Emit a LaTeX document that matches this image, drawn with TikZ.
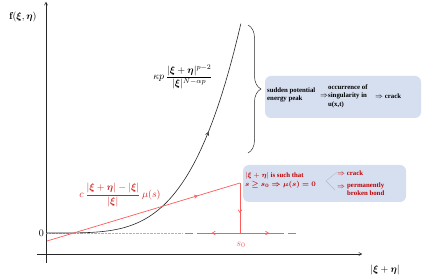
\documentclass[tikz,border=0pt]{standalone}
\usepackage{amsmath, amssymb, bm}
\usepackage{fontspec}
\newfontfamily\boxfont{Liberation Serif}
\usetikzlibrary{arrows.meta, decorations.markings, decorations.pathreplacing, calc}
\usepackage{xcolor}

\definecolor{boxblue}{RGB}{214,223,240}
\definecolor{linered}{RGB}{255,90,90}
\definecolor{textred}{RGB}{192,0,0}
\definecolor{formred}{RGB}{205,35,35}

\begin{document}
\begin{tikzpicture}[x=1pt, y=-1pt,
axis/.style={draw=black!85, line width=0.6pt, -{To[length=3.5pt, width=3.5pt]}},
redline/.style={draw=linered, line width=0.7pt},
midarrow/.style={postaction={decorate}, decoration={markings,
  mark=at position #1 with {\arrow{To[length=3.5pt, width=4pt]}}}},
infobox/.style={fill=boxblue, rounded corners=6pt, inner sep=0pt},
boxtext/.style={font=\boxfont\fontsize{6.8}{8.6}\selectfont\bfseries, align=left, inner sep=0pt, anchor=west}
]
\useasboundingbox (0,0) rectangle (423,280);

% -------- Axes --------
\coordinate (ybottom) at (46,263);
\coordinate (ytop) at (46,2);
\coordinate (xstart) at (37,254);
\coordinate (xend) at (362,254);
\draw[axis] (ybottom) -- (ytop);
\draw[axis] (xstart) -- (xend);
\node (ylabel) at (23,17) {$\mathbf{f}(\bm\xi,\bm\eta)$};
\node (xlabel) at (385,270) {$|\bm\xi+\bm\eta|$};

% -------- Zero level --------
\coordinate (zero) at (46,233);
\coordinate (zeroend) at (183,233);
\node[anchor=east, inner sep=2pt] (zerolabel) at (zero) {0};
\draw[gray!60, line width=0.4pt, densely dotted] (zero) -- (zeroend);

% -------- Potential curve --------
\draw[black!85, line width=0.6pt, midarrow=0.65]
  plot[domain=0:1, samples=60, smooth] ({46+195*\x}, {233-210*\x^4});
\node (potential) at (183,77) {$\kappa p\,\dfrac{|\bm\xi+\bm\eta|^{p-2}}{|\bm\xi|^{N-\alpha p}}$};

% -------- Red linear part --------
\coordinate (rstart) at (47,241);
\coordinate (rpeak) at (240,183);
\coordinate (rfoot) at (240,233);
\coordinate (sleft) at (205,233);
\coordinate (sright) at (276,233);
\coordinate (dleft) at (182,233);
\coordinate (dright) at (299,233);
\draw[redline, midarrow=0.78] (rstart) -- (rpeak);
\draw[redline, midarrow=0.6] (rpeak) -- (rfoot);
\draw[redline, midarrow=0.8] (rfoot) -- (sleft);
\draw[redline, midarrow=0.8] (rfoot) -- (sright);
\draw[redline, dash pattern=on 8pt off 4pt] (sleft) -- (dleft);
\draw[redline, dash pattern=on 8pt off 4pt] (sright) -- (dright);
\node[text=linered] (s0) at (241,245) {$s_0$};
\node[text=formred] (linear) at (120,195) {$c\,\dfrac{|\bm\xi+\bm\eta|-|\bm\xi|}{|\bm\xi|}\,\mu(s)$};

% -------- Brace --------
\coordinate (btop) at (248,25);
\coordinate (bbottom) at (248,153);
\draw[black!85, line width=0.5pt, decorate, decoration={brace, amplitude=13pt}] (btop) -- (bbottom);

% -------- Energy peak box --------
\node[infobox, minimum width=156pt, minimum height=42pt] (peakbox) at (343,97) {};
\node[boxtext] (peak) at (267,95) {sudden potential\\energy peak};
\node[boxtext] (imp1) at (320,96) {$\Rightarrow$};
\node[boxtext] (sing) at (328,96) {occurrence of\\singularity in\\u(x,t)};
\node[boxtext] (crack1) at (375,96) {$\Rightarrow$ crack};

% -------- Cut-off box --------
\node[infobox, minimum width=163pt, minimum height=37pt] (cutbox) at (324.5,183.5) {};
\node[boxtext, text=textred] (cond) at (245,180.5) {$|\bm\xi+\bm\eta|$ is such that\\$\bm{s\geq s_0\Rightarrow \mu(s)=0}$};
\coordinate (atop) at (337,172);
\coordinate (atip) at (326,181);
\coordinate (abot) at (335,190);
\draw[gray!55, line width=0.4pt] (atop) -- (atip) -- (abot);
\node[boxtext, text=textred] (crack2) at (337,173) {$\Rightarrow$ crack};
\node[boxtext, text=textred] (imp2) at (337,187) {$\Rightarrow$};
\node[boxtext, text=textred] (broken) at (347,189) {permanently\\broken bond};

\end{tikzpicture}
\end{document}
